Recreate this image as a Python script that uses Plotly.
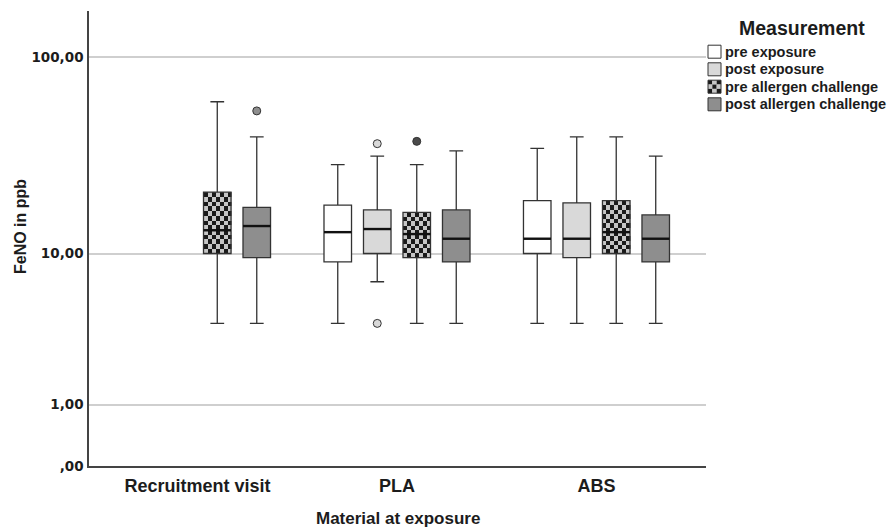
import numpy as np
import plotly.graph_objects as go

# ---------------- data (values in ppb) ----------------
groups = ["Recruitment visit", "PLA", "ABS"]
series = ["pre exposure", "post exposure", "pre allergen challenge", "post allergen challenge"]

pre_exp_low = [None, 4, 4]
pre_exp_q1 = [None, 9, 10]
pre_exp_med = [None, 13, 12]
pre_exp_q3 = [None, 18, 19]
pre_exp_high = [None, 29, 35]
pre_exp_out = [[], [], []]

post_exp_low = [None, 7, 4]
post_exp_q1 = [None, 10, 9.5]
post_exp_med = [None, 13.5, 12]
post_exp_q3 = [None, 17, 18.5]
post_exp_high = [None, 32, 40]
post_exp_out = [[], [37, 4], []]

pre_all_low = [4, 4, 4]
pre_all_q1 = [10, 9.5, 10]
pre_all_med = [13.3, 12.7, 13]
pre_all_q3 = [21, 16.5, 19]
pre_all_high = [60, 29, 40]
pre_all_out = [[], [38], []]

post_all_low = [4, 4, 4]
post_all_q1 = [9.5, 9, 9]
post_all_med = [14, 12, 12]
post_all_q3 = [17.5, 17, 16]
post_all_high = [40, 34, 32]
post_all_out = [[54], [], []]

y_tick_values = [0, 1, 10, 100]
y_tick_labels = [",00", "1,00", "10,00", "100,00"]

# ---------------- layout constants ----------------
OFF = 8  # page body margin
W, H = 895, 527
L, R, T, B = 89, 189, 11, 61
PW, PH = W - L - R, H - T - B
XR = [-0.544, 2.549]
YMAX = 2.23
OFFSETS = [-0.297, -0.099, 0.099, 0.297]
BOXW = 0.138
EDGE = "#333333"
TXT = "#1c1c1c"
FILLS = ["#ffffff", "#d9d9d9", None, "#8e8e8e"]
CHK_DARK, CHK_LIGHT = "#1a1a1a", "#c6c6c6"
OUT_FILLS = ["#ffffff", "#d9d9d9", "#4a4a4a", "#8e8e8e"]


def tf(v):
    """SPSS 'safe log' scale"""
    return np.log10(np.asarray(v, dtype=float) + 1.0)


stats = [
    (pre_exp_low, pre_exp_q1, pre_exp_med, pre_exp_q3, pre_exp_high, pre_exp_out),
    (post_exp_low, post_exp_q1, post_exp_med, post_exp_q3, post_exp_high, post_exp_out),
    (pre_all_low, pre_all_q1, pre_all_med, pre_all_q3, pre_all_high, pre_all_out),
    (post_all_low, post_all_q1, post_all_med, post_all_q3, post_all_high, post_all_out),
]

fig = go.Figure()

px_per_x = PW / (XR[1] - XR[0])
px_per_y = PH / YMAX

for s, (lo, q1, md, q3, hi, outs) in enumerate(stats):
    idx = [g for g in range(len(groups)) if md[g] is not None]
    xs = [g + OFFSETS[s] for g in idx]

    # checkered fill as heatmap cells
    if FILLS[s] is None:
        ncol = 7
        dx = BOXW / ncol
        for g, xc in zip(idx, xs):
            for ya, yb in [(tf(q1[g]), tf(md[g])), (tf(md[g]), tf(q3[g]))]:
                nrow = max(1, int(round((yb - ya) * px_per_y / 4.5)))
                dy = (yb - ya) / nrow
                z = [[(i + j) % 2 for j in range(ncol)] for i in range(nrow)]
                fig.add_trace(go.Heatmap(
                    z=z, x0=xc - BOXW / 2 + dx / 2, dx=dx, y0=ya + dy / 2, dy=dy,
                    colorscale=[[0, CHK_LIGHT], [1, CHK_DARK]], zmin=0, zmax=1,
                    showscale=False, hoverinfo="skip"))

    fig.add_trace(go.Box(
        x=xs,
        lowerfence=tf([lo[g] for g in idx]),
        q1=tf([q1[g] for g in idx]),
        median=tf([md[g] for g in idx]),
        q3=tf([q3[g] for g in idx]),
        upperfence=tf([hi[g] for g in idx]),
        width=BOXW, whiskerwidth=0.5,
        fillcolor=FILLS[s] if FILLS[s] else "rgba(0,0,0,0)",
        line=dict(color=EDGE, width=1.3),
        boxpoints=False, showlegend=False, name=series[s], hoverinfo="skip"))

    # thicker median lines
    mx, my = [], []
    for g, xc in zip(idx, xs):
        mx += [xc - BOXW / 2, xc + BOXW / 2, None]
        my += [float(tf(md[g])), float(tf(md[g])), None]
    fig.add_trace(go.Scatter(x=mx, y=my, mode="lines",
                             line=dict(color="#111111", width=2.4),
                             showlegend=False, hoverinfo="skip"))

    # outliers
    ox, oy = [], []
    for g in range(len(groups)):
        for v in outs[g]:
            ox.append(g + OFFSETS[s])
            oy.append(float(tf(v)))
    if ox:
        fig.add_trace(go.Scatter(x=ox, y=oy, mode="markers",
                                 marker=dict(size=8, color=OUT_FILLS[s],
                                             line=dict(color=EDGE, width=1)),
                                 showlegend=False, hoverinfo="skip"))


def pxx(p):
    return (p - L) / PW


def pxy(p):
    return (H - B - p) / PH


shapes = []
annotations = []

# custom legend
row_y = [51.7, 69.3, 86.7, 104.3]
ix0, isz = 708, 13
for s, name in enumerate(series):
    cy = row_y[s]
    y0, y1 = cy - isz / 2, cy + isz / 2
    if FILLS[s] is None:
        n = 3
        c = isz / n
        for i in range(n):
            for j in range(n):
                shapes.append(dict(type="rect", xref="paper", yref="paper",
                                   x0=pxx(ix0 + j * c), x1=pxx(ix0 + (j + 1) * c),
                                   y0=pxy(y0 + i * c), y1=pxy(y0 + (i + 1) * c),
                                   fillcolor=CHK_DARK if (i + j) % 2 == 0 else CHK_LIGHT,
                                   line=dict(width=0), layer="above"))
        shapes.append(dict(type="rect", xref="paper", yref="paper",
                           x0=pxx(ix0), x1=pxx(ix0 + isz), y0=pxy(y0), y1=pxy(y1),
                           line=dict(color=EDGE, width=1), layer="above"))
    else:
        shapes.append(dict(type="rect", xref="paper", yref="paper",
                           x0=pxx(ix0), x1=pxx(ix0 + isz), y0=pxy(y0), y1=pxy(y1),
                           fillcolor=FILLS[s], line=dict(color=EDGE, width=1), layer="above"))
    annotations.append(dict(text=name, xref="paper", yref="paper", x=pxx(723), y=pxy(cy),
                            xanchor="left", yanchor="middle", showarrow=False,
                            font=dict(family="Liberation Sans", size=14.5, color=TXT, weight="bold")))

annotations.append(dict(text="Measurement", xref="paper", yref="paper", x=pxx(802), y=pxy(28.5),
                        xanchor="center", yanchor="middle", showarrow=False,
                        font=dict(family="Liberation Sans", size=19.5, color=TXT, weight="bold")))

# axis titles
annotations.append(dict(text="Material at exposure", xref="paper", yref="paper", x=pxx(398), y=pxy(518),
                        xanchor="center", yanchor="middle", showarrow=False,
                        font=dict(family="Liberation Sans", size=17, color=TXT, weight="bold")))
annotations.append(dict(text="FeNO in ppb", xref="paper", yref="paper", x=pxx(20), y=pxy(227),
                        xanchor="center", yanchor="middle", showarrow=False, textangle=-90,
                        font=dict(family="Liberation Sans", size=16, color=TXT, weight="bold")))

fig.update_layout(
    width=W - OFF, height=H - OFF,
    margin=dict(l=L - OFF, r=R, t=T - OFF, b=B, pad=0),
    paper_bgcolor="white", plot_bgcolor="white",
    showlegend=False,
    shapes=shapes, annotations=annotations,
    xaxis=dict(range=XR, tickmode="array", tickvals=list(range(len(groups))), ticktext=groups,
               showgrid=False, zeroline=False, showline=True, linecolor="#444444", linewidth=1.5,
               ticks="", ticklabelstandoff=3,
               tickfont=dict(family="Liberation Sans", size=18, color=TXT, weight="bold")),
    yaxis=dict(range=[0, YMAX], tickmode="array", tickvals=[float(v) for v in tf(y_tick_values)],
               ticktext=y_tick_labels, showgrid=True, gridcolor="#cfcfcf", gridwidth=1.5,
               zeroline=False, showline=True, linecolor="#444444", linewidth=1.5,
               ticks="", ticklabelstandoff=1,
               tickfont=dict(family="DejaVu Sans", size=13.5, color=TXT, weight="bold")),
)

fig.write_html("out.html")
